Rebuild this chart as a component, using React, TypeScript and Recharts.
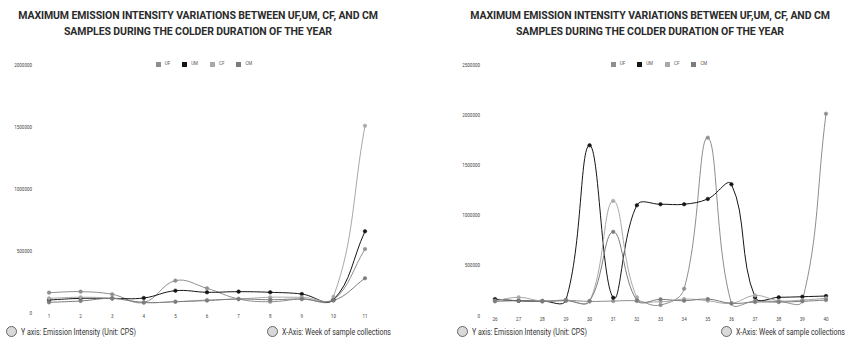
import React from "react";
import { LineChart, Line, XAxis, YAxis, Legend } from "recharts";

// weeks 1-11 (left panel)
const weeksA = [1, 2, 3, 4, 5, 6, 7, 8, 9, 10, 11];
const ufA = [164000, 172000, 151000, 85000, 261000, 199000, 113000, 91000, 113000, 105000, 516000];
const umA = [105000, 118000, 118000, 121000, 180000, 167000, 172000, 167000, 153000, 107000, 659000];
const cfA = [118000, 127000, 118000, 85000, 91000, 105000, 113000, 127000, 127000, 131000, 1510000];
const cmA = [86000, 97000, 118000, 85000, 91000, 100000, 113000, 107000, 113000, 100000, 280000];

// weeks 26-40 (right panel)
const weeksB = [26, 27, 28, 29, 30, 31, 32, 33, 34, 35, 36, 37, 38, 39, 40];
const ufB = [169000, 152000, 149000, 156000, 145000, 149000, 150000, 109000, 272000, 1776000, 126000, 150000, 145000, 152000, 2015000];
const umB = [166000, 152000, 149000, 159000, 1700000, 182000, 1103000, 1113000, 1113000, 1166000, 1312000, 186000, 186000, 192000, 199000];
const cfB = [152000, 186000, 149000, 159000, 147000, 1146000, 186000, 142000, 169000, 152000, 126000, 205000, 152000, 159000, 176000];
const cmB = [146000, 152000, 146000, 152000, 149000, 838000, 156000, 166000, 152000, 169000, 126000, 139000, 139000, 146000, 159000];

const ticksA = [0, 500000, 1000000, 1500000, 2000000];
const ticksB = [0, 500000, 1000000, 1500000, 2000000, 2500000];

const SERIES = ["UF", "UM", "CF", "CM"] as const;
const TITLE1 = "MAXIMUM EMISSION INTENSITY VARIATIONS BETWEEN UF,UM, CF, AND CM";
const TITLE2 = "SAMPLES DURING THE COLDER DURATION OF THE YEAR";

const COLORS: Record<string, string> = { UF: "#8e8e8e", UM: "#151515", CF: "#a8a8a8", CM: "#7c7c7c" };

// chart.js style spline (tension 0.4), control points scaled by pixel distance
const smoothCurve = (context: any) => {
  let pts: [number, number][] = [];
  const t = 0.4;
  return {
    areaStart() {},
    areaEnd() {},
    lineStart() {
      pts = [];
    },
    lineEnd() {
      if (!pts.length) return;
      const n = pts.length;
      const cpIn: [number, number][] = [];
      const cpOut: [number, number][] = [];
      for (let i = 0; i < n; i++) {
        const cur = pts[i];
        const prev = pts[Math.max(i - 1, 0)];
        const next = pts[Math.min(i + 1, n - 1)];
        const d01 = Math.hypot(cur[0] - prev[0], cur[1] - prev[1]);
        const d12 = Math.hypot(next[0] - cur[0], next[1] - cur[1]);
        const sum = d01 + d12 || 1;
        const fa = (t * d01) / sum;
        const fb = (t * d12) / sum;
        cpIn.push([cur[0] - fa * (next[0] - prev[0]), cur[1] - fa * (next[1] - prev[1])]);
        cpOut.push([cur[0] + fb * (next[0] - prev[0]), cur[1] + fb * (next[1] - prev[1])]);
      }
      context.moveTo(pts[0][0], pts[0][1]);
      for (let i = 0; i < n - 1; i++) {
        context.bezierCurveTo(cpOut[i][0], cpOut[i][1], cpIn[i + 1][0], cpIn[i + 1][1], pts[i + 1][0], pts[i + 1][1]);
      }
    },
    point(x: number, y: number) {
      pts.push([x, y]);
    },
  };
};

const build = (weeks: number[], uf: number[], um: number[], cf: number[], cm: number[]) =>
  weeks.map((w, i) => ({ week: w, UF: uf[i], UM: um[i], CF: cf[i], CM: cm[i] }));

const dataA = build(weeksA, ufA, umA, cfA, cmA);
const dataB = build(weeksB, ufB, umB, cfB, cmB);

const tickStyle = { fontSize: 4.5, fill: "#444", fontFamily: "Roboto, sans-serif" };

const LegendRow = () => (
  <div
    style={{
      display: "flex",
      justifyContent: "center",
      fontSize: 4.5,
      fontFamily: "Roboto, sans-serif",
      color: "#555",
      lineHeight: "8px",
    }}
  >
    {SERIES.map((k) => (
      <span key={k} style={{ display: "inline-flex", alignItems: "center", marginRight: 12 }}>
        <span style={{ width: 5, height: 5, background: COLORS[k], marginRight: 4, display: "inline-block" }} />
        {k}
      </span>
    ))}
  </div>
);

const Footer = ({ x, text }: { x: number; text: string }) => (
  <div
    style={{
      position: "absolute",
      left: x,
      top: 325,
      height: 12,
      display: "flex",
      alignItems: "center",
      fontFamily: "Roboto, sans-serif",
      fontSize: 9.5,
      color: "#333",
      whiteSpace: "nowrap",
    }}
  >
    <span
      style={{
        display: "inline-block",
        width: 9,
        height: 9,
        borderRadius: "50%",
        background: "#d9d9d9",
        border: "1px solid #666",
        marginRight: 4,
        flex: "none",
      }}
    />
    <span style={{ display: "inline-block", transform: "scaleX(0.74)", transformOrigin: "left center" }}>{text}</span>
  </div>
);

const Panel = ({
  left,
  width,
  data,
  margin,
  yWidth,
  yGap,
  ticks,
  titleCenter,
  legendCenter,
}: {
  left: number;
  width: number;
  data: any[];
  margin: { top: number; right: number; left: number; bottom: number };
  yWidth: number;
  yGap: number;
  ticks: number[];
  titleCenter: number;
  legendCenter: number;
}) => (
  <div style={{ position: "absolute", left, top: 0, width, height: 341 }}>
    <div
      style={{
        position: "absolute",
        left: titleCenter - 250,
        width: 500,
        top: 8,
        textAlign: "center",
        fontFamily: "Roboto, sans-serif",
        fontWeight: 700,
        fontSize: 10.5,
        lineHeight: "16px",
        letterSpacing: -0.1,
        color: "#2b2b2b",
      }}
    >
      <div>{TITLE1}</div>
      <div>{TITLE2}</div>
    </div>
    <LineChart width={width} height={341} data={data} margin={margin}>
      <XAxis
        dataKey="week"
        height={10}
        axisLine={false}
        tickLine={false}
        tickSize={0}
        tickMargin={2}
        tick={tickStyle}
        interval={0}
        padding={{ left: 0, right: 0 }}
      />
      <YAxis
        width={yWidth}
        domain={[0, ticks[ticks.length - 1]]}
        ticks={ticks}
        axisLine={false}
        tickLine={false}
        tickSize={0}
        tickMargin={yGap}
        tick={tickStyle}
        interval={0}
      />
      {/* middle/center keeps the legend from eating into the plot area */}
      <Legend
        layout="horizontal"
        verticalAlign="middle"
        align="center"
        content={() => <LegendRow />}
        wrapperStyle={{ top: 60, left: legendCenter - 100, width: 200 }}
      />
      {SERIES.map((k) => (
        <Line
          key={k}
          dataKey={k}
          type={smoothCurve as any}
          stroke={COLORS[k]}
          strokeWidth={1}
          dot={{ r: 1.8, fill: COLORS[k], stroke: COLORS[k], strokeWidth: 0.5 }}
          activeDot={false}
          isAnimationActive={false}
        />
      ))}
    </LineChart>
  </div>
);

export default function App() {
  return (
    <div
      style={{
        position: "absolute",
        left: 0,
        top: 0,
        width: 855,
        height: 341,
        background: "#fff",
        overflow: "hidden",
      }}
    >
      <Panel
        left={0}
        width={430}
        data={dataA}
        margin={{ top: 65, right: 65, left: 0, bottom: 18 }}
        yWidth={49}
        yGap={17}
        ticks={ticksA}
        titleCenter={198}
        legendCenter={210}
      />
      <Panel
        left={430}
        width={425}
        data={dataB}
        margin={{ top: 65, right: 29, left: 0, bottom: 15 }}
        yWidth={65}
        yGap={15}
        ticks={ticksB}
        titleCenter={220}
        legendCenter={235}
      />
      <Footer x={6} text="Y axis: Emission Intensity (Unit: CPS)" />
      <Footer x={267} text="X-Axis: Week of sample collections" />
      <Footer x={457} text="Y axis: Emission Intensity (Unit: CPS)" />
      <Footer x={721} text="X-Axis: Week of sample collections" />
    </div>
  );
}
